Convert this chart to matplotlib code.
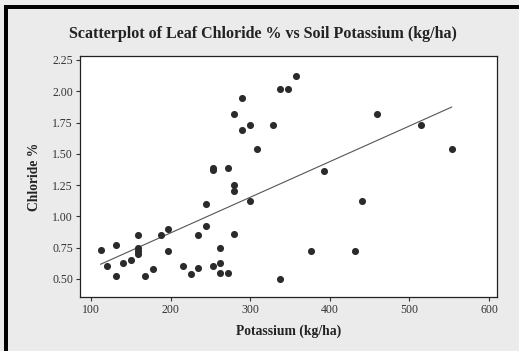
import numpy as np
import matplotlib.pyplot as plt
from matplotlib.patches import Rectangle

# Soil potassium (kg/ha) and leaf chloride (%)
potassium = [112, 120, 131, 131, 140, 150, 159, 159, 159, 159, 168, 178, 188,
             197, 197, 216, 225, 234, 234, 244, 244, 253, 253, 253, 262, 262,
             262, 272, 272, 280, 280, 280, 280, 290, 290, 300, 300, 309, 328,
             337, 337, 348, 357, 376, 393, 432, 440, 459, 515, 553]
chloride = [0.73, 0.60, 0.77, 0.52, 0.63, 0.65, 0.85, 0.75, 0.72, 0.70, 0.52,
            0.58, 0.85, 0.90, 0.72, 0.60, 0.54, 0.85, 0.59, 1.10, 0.92, 0.60,
            1.39, 1.37, 0.75, 0.63, 0.55, 0.55, 1.39, 1.82, 1.25, 1.20, 0.86,
            1.95, 1.69, 1.73, 1.12, 1.54, 1.73, 2.02, 0.50, 2.02, 2.12, 0.72,
            1.36, 0.72, 1.12, 1.82, 1.73, 1.54]

xticks = [100, 200, 300, 400, 500, 600]
yticks = [0.50, 0.75, 1.00, 1.25, 1.50, 1.75, 2.00, 2.25]

serif = ['Liberation Serif', 'DejaVu Serif']

fig = plt.figure(figsize=(5.19, 3.51), dpi=100, facecolor='#ebebeb')
ax = fig.add_axes([0.1541, 0.1538, 0.8035, 0.6867])
ax.set_facecolor('white')

ax.scatter(potassium, chloride, s=26, color='#2b2b2b', zorder=3, linewidths=0)

# least squares line over the data range
slope, intercept = np.polyfit(potassium, chloride, 1)
xs = np.array([min(potassium), max(potassium)])
ax.plot(xs, slope * xs + intercept, color='#555555', lw=0.8, zorder=2)

ax.set_xlim(86, 610)
ax.set_ylim(0.356, 2.282)
ax.set_xticks(xticks)
ax.set_yticks(yticks)
ax.set_xticklabels([str(t) for t in xticks], family=serif, fontsize=8.5, color='#333333')
ax.set_yticklabels([f'{t:.2f}' for t in yticks], family=serif, fontsize=8.5, color='#333333')
ax.tick_params(direction='out', length=3, width=0.8, color='#333333', pad=2)
for side in ['left', 'bottom', 'right', 'top']:
    ax.spines[side].set_color('#222222')
    ax.spines[side].set_linewidth(0.9)

ax.set_xlabel('Potassium (kg/ha)', family=serif, fontsize=9.8, fontweight='bold',
              color='#222222', labelpad=6)
ax.set_ylabel('Chloride %', family=serif, fontsize=9.8, fontweight='bold',
              color='#222222', labelpad=8)
fig.text(0.507, 0.904, 'Scatterplot of Leaf Chloride % vs Soil Potassium (kg/ha)',
         family=serif, fontsize=11.5, fontweight='bold', color='#222222',
         ha='center', va='center')

# black frame strips on the left and top edge
W, H = 519, 351
fig.add_artist(Rectangle((4 / W, 0), 3.5 / W, 1 - 5 / H, transform=fig.transFigure,
                         color='black', lw=0))
fig.add_artist(Rectangle((4 / W, 1 - 8.5 / H), 1 - 4 / W, 3.5 / H, transform=fig.transFigure,
                         color='black', lw=0))

fig.savefig('out.png', dpi=100, facecolor=fig.get_facecolor())
